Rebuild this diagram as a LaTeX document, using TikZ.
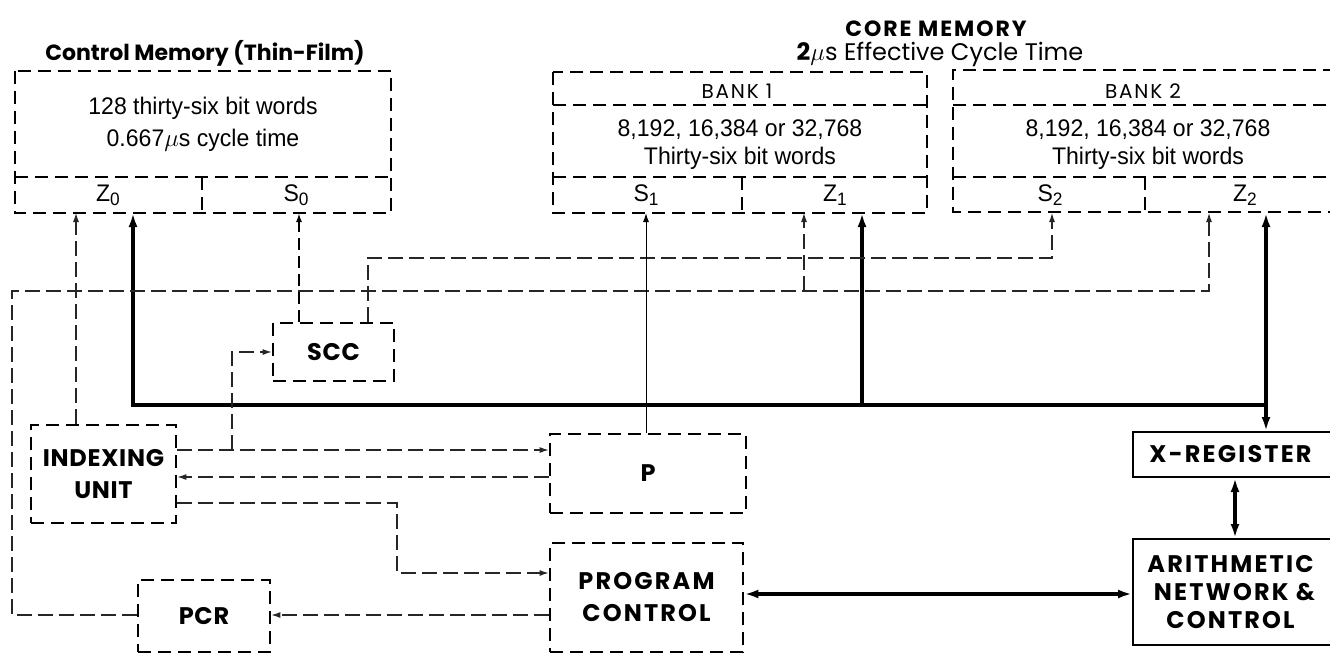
\documentclass[tikz,border=0pt]{standalone}
\usepackage{fontspec}
\usetikzlibrary{arrows.meta}
\newfontfamily\geo{Poppins}
\newfontfamily\geosp[LetterSpace=9]{Poppins}
\newfontfamily\geosm[LetterSpace=3]{Poppins}
\newfontfamily\cond[FakeStretch=0.96]{Liberation Sans}
\newcommand{\sub}[1]{\raisebox{-4pt}{\fontsize{18}{18}\selectfont #1}}
\begin{document}
\begin{tikzpicture}[x=1pt,y=-1pt,
  memdash/.style={line width=2.8pt, dash pattern=on 13pt off 7pt},
  dbox/.style={draw, memdash, inner sep=0pt, align=center, font=\geosm\bfseries\fontsize{24}{32}\selectfont},
  sbox/.style={draw, line width=2pt, inner sep=0pt, align=center, font=\geosp\bfseries\fontsize{24}{28}\selectfont},
  sig/.style={line width=1.1pt, black!85, dash pattern=on 15pt off 6pt},
  sigm/.style={line width=1.8pt, dash pattern=on 12pt off 6pt},
  thin/.style={line width=1pt},
  bus/.style={line width=3.5pt},
  ta/.style={-{Latex[length=9pt,width=6pt]}},
  tb/.style={-{Latex[length=14pt,width=9pt]}},
  tbb/.style={{Latex[length=14pt,width=9pt]}-{Latex[length=14pt,width=9pt]}},
  ctext/.style={font=\cond\fontsize{24}{28}\selectfont, inner sep=0pt},
  ttl/.style={font=\geo\bfseries\fontsize{22}{26}\selectfont, inner sep=0pt},
  bank/.style={font=\geosp\fontsize{20}{22}\selectfont, inner sep=0pt}
]
\useasboundingbox (0,0) rectangle (1330,654);

% ---- titles
\node[ttl] (cmt) at (205,53) {Control Memory (Thin-Film)};
\node[ttl, font=\geosp\bfseries\fontsize{22}{24}\selectfont] (coret) at (936,29) {CORE MEMORY};
\node[font=\geo\fontsize{24}{28}\selectfont, inner sep=0pt] (cyc) at (940,54) {\textbf{2}$\mu$s Effective Cycle Time};

% ---- control memory outline
\draw[memdash] (15,71) rectangle (391,213);
\draw[memdash] (15,177) -- (391,177);
\draw[memdash] (202,177) -- (202,213);
\node[ctext] (cmw) at (203,108) {128 thirty-six bit words};
\node[ctext] (cmc) at (203,140) {0.667$\mu$s cycle time};
\node[ctext] (Z0) at (108,195) {Z\sub{0}};
\node[ctext] (S0) at (296,195) {S\sub{0}};

% ---- bank 1
\draw[memdash] (553,72) rectangle (927,213);
\draw[memdash] (553,105) -- (927,105);
\draw[memdash] (553,177) -- (927,177);
\draw[memdash] (742,177) -- (742,213);
\node[bank] (b1) at (737,91) {BANK 1};
\node[ctext] (b1a) at (740,130) {8,192, 16,384 or 32,768};
\node[ctext] (b1b) at (740,158) {Thirty-six bit words};
\node[ctext] (S1) at (646,195) {S\sub{1}};
\node[ctext] (Z1) at (835,195) {Z\sub{1}};

% ---- bank 2 (open to the right)
\draw[memdash] (1336,70) -- (953,70) -- (953,212) -- (1336,212);
\draw[memdash] (953,105) -- (1336,105);
\draw[memdash] (953,177) -- (1336,177);
\draw[memdash] (1145,177) -- (1145,212);
\node[bank] (b2) at (1143,91) {BANK 2};
\node[ctext] (b2a) at (1148,130) {8,192, 16,384 or 32,768};
\node[ctext] (b2b) at (1148,158) {Thirty-six bit words};
\node[ctext] (S2) at (1050,195) {S\sub{2}};
\node[ctext] (Z2) at (1245,195) {Z\sub{2}};

% ---- memory port coordinates
\coordinate (z0a) at (76,213);
\coordinate (z0b) at (133,213);
\coordinate (s0a) at (299,213);
\coordinate (s1a) at (646,213);
\coordinate (z1a) at (804,213);
\coordinate (z1b) at (862,213);
\coordinate (s2a) at (1052,213);
\coordinate (z2a) at (1209,213);
\coordinate (z2b) at (1266,213);

% ---- blocks
\node[dbox, minimum width=145pt, minimum height=98pt] (IU) at (103.5,474) {INDEXING\\UNIT};
\node[dbox, minimum width=121pt, minimum height=58pt] (SCC) at (333.5,352) {SCC};
\node[dbox, minimum width=196pt, minimum height=79pt] (P) at (648,473.5) {P};
\node[dbox, font=\geosp\bfseries\fontsize{24}{32}\selectfont, minimum width=193pt, minimum height=109pt] (PC) at (646.5,597.5) {PROGRAM\\CONTROL};
\node[dbox, minimum width=132pt, minimum height=72pt] (PCR) at (204,616) {PCR};
\node[sbox, minimum width=203pt, minimum height=45pt] (XR) at (1234.5,454.5) {X-REGISTER\hspace*{8pt}};
\node[sbox, minimum width=203pt, minimum height=106pt] (AR) at (1234.5,592) {ARITHMETIC\hspace*{8pt}\\NETWORK \&\hspace*{8pt}\\CONTROL\hspace*{8pt}};

% ---- junctions
\coordinate (busL) at (133,405);
\coordinate (busR) at (1266,405);
\coordinate (busZ1) at (862,405);
\coordinate (pcrL) at (12,615);
\coordinate (pcrT) at (12,291);
\coordinate (sccT) at (368,258);
\coordinate (iuS) at (232,352);
\coordinate (iuPC) at (397,503);

% ---- thick data bus
\draw[bus, {Latex[length=14pt,width=9pt]}-] (z0b) -- (busL) -- (busR);
\draw[bus, tbb] (z2b) -- (z2b |- XR.north);
\draw[bus, tb] (busZ1) -- (z1b);
\draw[bus, tbb] (PC.east |- 0,594) -- (AR.west |- 0,594);
\draw[bus, tbb] (XR.south -| 1235,0) -- (AR.north -| 1235,0);

% ---- control signals
\draw[sig, ta] (IU.north -| z0a) -- (z0a);
\draw[sigm, ta] (SCC.north -| s0a) -- (s0a);
\draw[sig, ta] (SCC.north -| sccT) -- (sccT) -- (sccT -| s2a) -- (s2a);
\draw[sig, ta] (PCR.west |- pcrL) -- (pcrL) -- (pcrT) -- (pcrT -| z2a) -- (z2a);
\draw[sig, ta] (pcrT -| z1a) -- (z1a);
\draw[thin, ta] (P.north -| s1a) -- (s1a);
\draw[sig, ta] (IU.east |- 0,450) -- (P.west |- 0,450);
\draw[sig, ta] (iuS |- 0,450) -- (iuS) -- (SCC.west |- iuS);
\draw[sig, ta] (P.west |- 0,477) -- (IU.east |- 0,477);
\draw[sig, ta] (IU.east |- iuPC) -- (iuPC) -- (iuPC |- 0,573) -- (PC.west |- 0,573);
\draw[sig, ta] (PC.west |- 0,615) -- (PCR.east |- 0,615);
\end{tikzpicture}
\end{document}
